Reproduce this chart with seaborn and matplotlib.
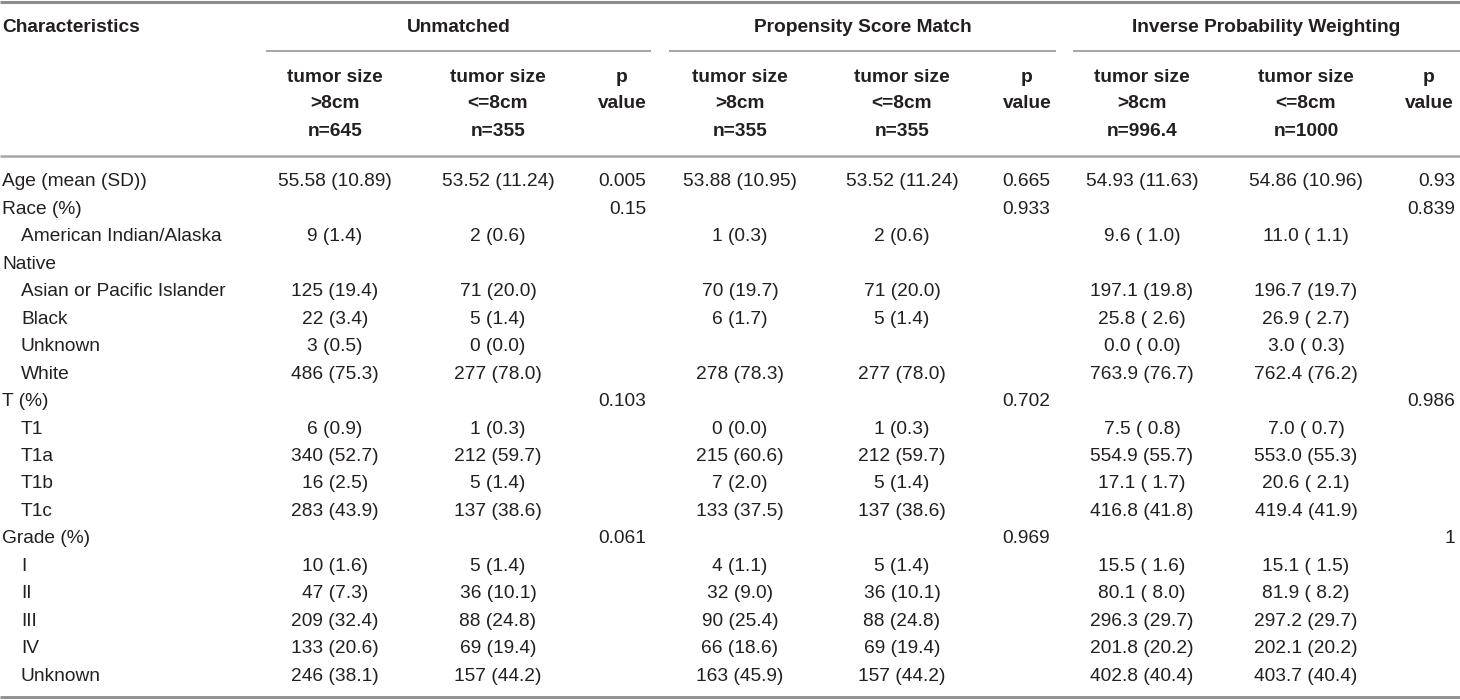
import matplotlib
matplotlib.use("Agg")
import matplotlib.pyplot as plt
import seaborn as sns

sns.set_theme(style="white")
plt.rcParams['font.family'] = ['Liberation Sans', 'DejaVu Sans']

# table content
groups = ["Unmatched", "Propensity Score Match", "Inverse Probability Weighting"]
sub_headers = ["tumor size\n>8cm\nn=645", "tumor size\n<=8cm\nn=355", "p\nvalue",
               "tumor size\n>8cm\nn=355", "tumor size\n<=8cm\nn=355", "p\nvalue",
               "tumor size\n>8cm\nn=996.4", "tumor size\n<=8cm\nn=1000", "p\nvalue"]

row_labels = ["Age (mean (SD))", "Race (%)", "American Indian/Alaska", "Native",
              "Asian or Pacific Islander", "Black", "Unknown", "White", "T (%)",
              "T1", "T1a", "T1b", "T1c", "Grade (%)", "I", "II", "III", "IV", "Unknown"]
indented = [False, False, True, False, True, True, True, True, False,
            True, True, True, True, False, True, True, True, True, True]

unm_big = ["55.58 (10.89)", "", "9 (1.4)", "", "125 (19.4)", "22 (3.4)", "3 (0.5)", "486 (75.3)", "",
           "6 (0.9)", "340 (52.7)", "16 (2.5)", "283 (43.9)", "",
           "10 (1.6)", "47 (7.3)", "209 (32.4)", "133 (20.6)", "246 (38.1)"]
unm_small = ["53.52 (11.24)", "", "2 (0.6)", "", "71 (20.0)", "5 (1.4)", "0 (0.0)", "277 (78.0)", "",
             "1 (0.3)", "212 (59.7)", "5 (1.4)", "137 (38.6)", "",
             "5 (1.4)", "36 (10.1)", "88 (24.8)", "69 (19.4)", "157 (44.2)"]
unm_p = ["0.005", "0.15", "", "", "", "", "", "", "0.103",
         "", "", "", "", "0.061", "", "", "", "", ""]

psm_big = ["53.88 (10.95)", "", "1 (0.3)", "", "70 (19.7)", "6 (1.7)", "", "278 (78.3)", "",
           "0 (0.0)", "215 (60.6)", "7 (2.0)", "133 (37.5)", "",
           "4 (1.1)", "32 (9.0)", "90 (25.4)", "66 (18.6)", "163 (45.9)"]
psm_small = ["53.52 (11.24)", "", "2 (0.6)", "", "71 (20.0)", "5 (1.4)", "", "277 (78.0)", "",
             "1 (0.3)", "212 (59.7)", "5 (1.4)", "137 (38.6)", "",
             "5 (1.4)", "36 (10.1)", "88 (24.8)", "69 (19.4)", "157 (44.2)"]
psm_p = ["0.665", "0.933", "", "", "", "", "", "", "0.702",
         "", "", "", "", "0.969", "", "", "", "", ""]

ipw_big = ["54.93 (11.63)", "", "9.6 ( 1.0)", "", "197.1 (19.8)", "25.8 ( 2.6)", "0.0 ( 0.0)", "763.9 (76.7)", "",
           "7.5 ( 0.8)", "554.9 (55.7)", "17.1 ( 1.7)", "416.8 (41.8)", "",
           "15.5 ( 1.6)", "80.1 ( 8.0)", "296.3 (29.7)", "201.8 (20.2)", "402.8 (40.4)"]
ipw_small = ["54.86 (10.96)", "", "11.0 ( 1.1)", "", "196.7 (19.7)", "26.9 ( 2.7)", "3.0 ( 0.3)", "762.4 (76.2)", "",
             "7.0 ( 0.7)", "553.0 (55.3)", "20.6 ( 2.1)", "419.4 (41.9)", "",
             "15.1 ( 1.5)", "81.9 ( 8.2)", "297.2 (29.7)", "202.1 (20.2)", "403.7 (40.4)"]
ipw_p = ["0.93", "0.839", "", "", "", "", "", "", "0.986",
         "", "", "", "", "1", "", "", "", "", ""]

columns = [unm_big, unm_small, unm_p, psm_big, psm_small, psm_p, ipw_big, ipw_small, ipw_p]

# layout (pixels)
W, H = 1460, 700
col_x = [335, 498, 646, 740, 902, 1050, 1142, 1306, 1455]
head_x = [335, 498, 622, 740, 902, 1027, 1142, 1306, 1429]
group_span = [(266, 651), (669, 1056), (1073, 1460)]
txt_col = "#231f20"
line_col = "#a6a6a6"
fs = 13.8

fig = plt.figure(figsize=(W / 100, H / 100), dpi=100)
ax = fig.add_axes([0, 0, 1, 1])
ax.set_xlim(0, W)
ax.set_ylim(H, 0)
ax.axis("off")

# rules
ax.plot([0, W], [1.5, 1.5], color="#8c8c8c", lw=2.2, solid_capstyle="butt")
ax.plot([0, W], [156, 156], color=line_col, lw=1.8, solid_capstyle="butt")
ax.plot([0, W], [697, 697], color="#8c8c8c", lw=2.0, solid_capstyle="butt")
for x0, x1 in group_span:
    ax.plot([x0, x1], [51, 51], color=line_col, lw=1.4, solid_capstyle="butt")

# headers
ax.text(2, 27, "Characteristics", ha="left", va="center", fontsize=fs,
        fontweight="bold", color=txt_col)
for g, (x0, x1) in zip(groups, group_span):
    ax.text((x0 + x1) / 2, 27, g, ha="center", va="center", fontsize=fs,
            fontweight="bold", color=txt_col)
for h, x in zip(sub_headers, head_x):
    for k, part in enumerate(h.split("\n")):
        ax.text(x, 77 + 27 * k, part, ha="center", va="center", fontsize=fs,
                fontweight="bold", color=txt_col)

# body
row_y0, row_dy = 182, 27.45
for i, lab in enumerate(row_labels):
    y = row_y0 + row_dy * i
    ax.text(21 if indented[i] else 2, y, lab, ha="left", va="center",
            fontsize=fs, color=txt_col)
    for j, col in enumerate(columns):
        if col[i] == "":
            continue
        ha = "right" if j % 3 == 2 else "center"
        ax.text(col_x[j], y, col[i], ha=ha, va="center", fontsize=fs, color=txt_col)

fig.savefig("out.png", dpi=100, facecolor="white")
